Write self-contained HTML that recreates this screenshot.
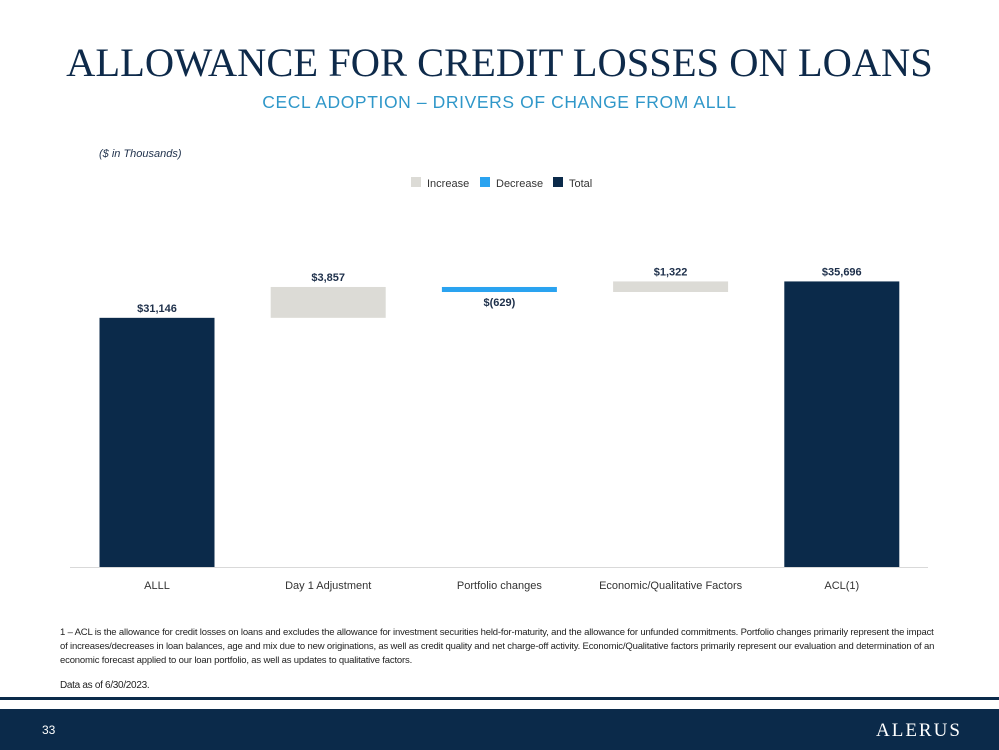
<!DOCTYPE html>
<html><head><meta charset="utf-8"><style>
body{margin:0;width:999px;height:750px;overflow:hidden;background:#fff;font-family:"Liberation Sans",sans-serif;position:relative}
.t{position:absolute;left:0;width:999px;text-align:center}
</style></head><body>
<div class="t" style="top:39px;font-family:'Liberation Serif',serif;font-size:40.5px;color:#0e2a4a;letter-spacing:0px">ALLOWANCE FOR CREDIT LOSSES ON LOANS</div>
<div class="t" style="top:92px;font-size:17.5px;color:#2f97c9;letter-spacing:0.6px">CECL ADOPTION – DRIVERS OF CHANGE FROM ALLL</div>
<div style="position:absolute;left:99px;top:148px;font-size:11px;font-style:italic;color:#1d2f4a">($ in Thousands)</div>
<svg id="chart" width="999" height="620" style="position:absolute;left:0;top:0"></svg>
<div style="position:absolute;left:60px;top:626px;width:900px;white-space:nowrap;font-size:9.5px;letter-spacing:-0.17px;line-height:14px;color:#222">1 – ACL is the allowance for credit losses on loans and excludes the allowance for investment securities held-for-maturity, and the allowance for unfunded commitments. Portfolio changes primarily represent the impact<br>of increases/decreases in loan balances, age and mix due to new originations, as well as credit quality and net charge-off activity. Economic/Qualitative factors primarily represent our evaluation and determination of an<br>economic forecast applied to our loan portfolio, as well as updates to qualitative factors.</div>
<div style="position:absolute;left:60px;top:680px;font-size:10px;letter-spacing:-0.3px;color:#222">Data as of 6/30/2023.</div>
<div style="position:absolute;left:0;top:697px;width:999px;height:3px;background:#0b2a4a"></div>
<div style="position:absolute;left:0;top:709px;width:999px;height:41px;background:#0b2a4a"></div>
<div style="position:absolute;left:42px;top:723px;font-size:12px;color:#fff">33</div>
<div style="position:absolute;left:876px;top:720px;font-family:'Liberation Serif',serif;font-size:19px;color:#fff;letter-spacing:2px">ALERUS</div>
<script>
const categories=["ALLL","Day 1 Adjustment","Portfolio changes","Economic/Qualitative Factors","ACL(1)"];
const values=[31146,3857,-629,1322,35696];
const kinds=["total","delta","delta","delta","total"];
const labels=["$31,146","$3,857","$(629)","$1,322","$35,696"];
const svg=document.getElementById('chart');
const NS="http://www.w3.org/2000/svg";
const base=567,scale=0.0080,x0=157,step=171.2,bw=115;
const y=v=>base-v*scale;
const col={total:"#0b2a4a",inc:"#dcdbd6",dec:"#2aa3f0"};
function add(t,a,txt){const e=document.createElementNS(NS,t);for(const k in a)e.setAttribute(k,a[k]);if(txt!=null)e.textContent=txt;svg.appendChild(e);return e;}
let ax=add('line',{x1:70,x2:928,y1:base+0.5,y2:base+0.5,stroke:'#d9d9d9'});


let run=0;
categories.forEach((c,i)=>{
  const cx=x0+i*step;let top,bot,fill;
  if(kinds[i]==='total'){top=y(values[i]);bot=base;fill=col.total;run=values[i];}
  else{const a=run,b=run+values[i];top=y(Math.max(a,b));bot=y(Math.min(a,b));fill=values[i]>=0?col.inc:col.dec;run=b;}
  const r=add('rect',{x:cx-bw/2,y:top,width:bw,height:Math.max(bot-top,3),fill:fill});
  
  
  const ly=values[i]<0&&kinds[i]!=='total'?bot+14:top-6;
  const l=add('text',{x:cx,y:ly,'text-anchor':'middle','font-size':11,'font-weight':'bold',fill:'#1d2f4a'},labels[i]);
  
  
  const t=add('text',{x:cx,y:589,'text-anchor':'middle','font-size':11,fill:'#333'},c);
  
  
});
const leg=[["Increase",col.inc,411],["Decrease",col.dec,480],["Total",col.total,553]];
leg.forEach((d,i)=>{
  const r=add('rect',{x:d[2],y:177,width:10,height:10,fill:d[1]});
  
  
  const t=add('text',{x:d[2]+16,y:187,'font-size':11,fill:'#333'},d[0]);
  
  
});
</script>
</body></html>
